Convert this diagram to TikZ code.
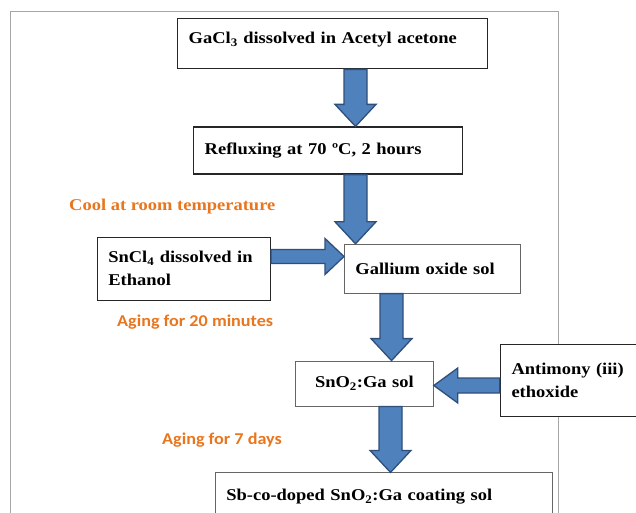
\documentclass[tikz,border=0pt]{standalone}
\usepackage{fontspec}
\setmainfont{Liberation Serif}[FakeStretch=1.12]
\newfontfamily\notefont{Carlito}[FakeStretch=1.1]
\usetikzlibrary{positioning,calc}
\definecolor{arrowfill}{HTML}{4F81BD}
\definecolor{arrowline}{HTML}{2F4F7A}
\definecolor{noteorange}{HTML}{E8761F}
\definecolor{framegray}{HTML}{A6A6A6}

% block arrows between two points (start, tip)
\newcommand{\downblock}[2]{%
  \draw[blockarrow] let \p1=#1, \p2=#2 in
    (\x1-11.5pt,\y1) -- (\x1+11.5pt,\y1) -- (\x1+11.5pt,\y2+22pt) -- (\x1+20.5pt,\y2+22pt)
    -- (\x1,\y2) -- (\x1-20.5pt,\y2+22pt) -- (\x1-11.5pt,\y2+22pt) -- cycle;}
\newcommand{\rightblock}[2]{%
  \draw[blockarrow] let \p1=#1, \p2=#2 in
    (\x1,\y1+7pt) -- (\x2-19pt,\y1+7pt) -- (\x2-19pt,\y1+18pt) -- (\x2,\y1)
    -- (\x2-19pt,\y1-18pt) -- (\x2-19pt,\y1-7pt) -- (\x1,\y1-7pt) -- cycle;}
\newcommand{\leftblock}[2]{%
  \draw[blockarrow] let \p1=#1, \p2=#2 in
    (\x1,\y1+7.5pt) -- (\x2+24pt,\y1+7.5pt) -- (\x2+24pt,\y1+17.5pt) -- (\x2,\y1)
    -- (\x2+24pt,\y1-17.5pt) -- (\x2+24pt,\y1-7.5pt) -- (\x1,\y1-7.5pt) -- cycle;}

\begin{document}
\begin{tikzpicture}[
    x=1pt, y=-1pt,
    box/.style={rectangle, draw=black!85, line width=1.4pt, fill=white, anchor=north west,
      inner xsep=11pt, align=left, font=\fontsize{16.5}{23}\selectfont\bfseries},
    thinbox/.style={box, draw=black!60, line width=0.8pt},
    note/.style={anchor=west, inner sep=0pt, text=noteorange, font=\fontsize{16.5}{20}\selectfont\bfseries},
    sansnote/.style={note, font=\notefont\fontsize{16.5}{20}\selectfont\bfseries},
    blockarrow/.style={fill=arrowfill, draw=arrowline, line width=1.3pt, line join=miter}
  ]
    \useasboundingbox (0,0) rectangle (636,513);
    \clip (0,0) rectangle (636,513);

    % Frame
    \draw[framegray, line width=1pt] (10,12) rectangle (558,530);

    % Gallium precursor
    \node[box, text width=288pt, inner ysep=4pt, text height=21pt, text depth=21pt] (gacl) at (177,18)
      {GaCl\textsubscript{3} dissolved in Acetyl acetone};

    % Refluxing
    \node[box, text width=247pt, minimum height=47pt, below right=57pt and 16pt of gacl.south west] (reflux)
      {Refluxing at 70 ºC, 2 hours};

    % Gallium oxide sol
    \node[thinbox, text width=154pt, minimum height=49pt, below right=69pt and 151pt of reflux.south west] (gasol)
      {Gallium oxide sol};

    % Tin precursor
    \node[box, text width=151pt, minimum height=63pt, left=73pt of gasol.west] (sncl)
      {SnCl\textsubscript{4} dissolved in\\Ethanol};

    % SnO2:Ga sol
    \node[thinbox, text width=116pt, minimum height=45pt, align=center,
      below=67pt of gasol.south west, anchor=north west, xshift=-49pt] (sngasol)
      {SnO\textsubscript{2}:Ga sol};

    % Antimony precursor
    \node[box, text width=128pt, minimum height=72pt, right=66pt of sngasol.east, yshift=3pt] (sbeth)
      {Antimony (iii)\\ethoxide};

    % Coating sol
    \node[thinbox, text width=315pt, inner ysep=4pt, text height=24pt, text depth=30pt,
      below=66pt of sngasol.south west, anchor=north west, xshift=-80pt] (coat)
      {Sb-co-doped SnO\textsubscript{2}:Ga coating sol};

    % Process notes
    \node[note] (cool) at (69,207) {Cool at room temperature};
    \node[sansnote] (age20) at (117,322) {Aging for 20 minutes};
    \node[sansnote] (age7) at (162,440) {Aging for 7 days};

    % Arrows
    \coordinate (colA) at (355.5,0);
    \coordinate (colB) at (391.5,0);
    \coordinate (colC) at (390.5,0);
    \coordinate (rowA) at (0,256.5);
    \coordinate (rowB) at (0,385.5);
    \downblock{(gacl.south -| colA)}{(reflux.north -| colA)}
    \downblock{(reflux.south -| colA)}{(gasol.north -| colA)}
    \rightblock{(sncl.east |- rowA)}{(gasol.west |- rowA)}
    \downblock{(gasol.south -| colB)}{(sngasol.north -| colB)}
    \leftblock{(sbeth.west |- rowB)}{(sngasol.east |- rowB)}
    \downblock{(sngasol.south -| colC)}{(coat.north -| colC)}
  \end{tikzpicture}
\end{document}
